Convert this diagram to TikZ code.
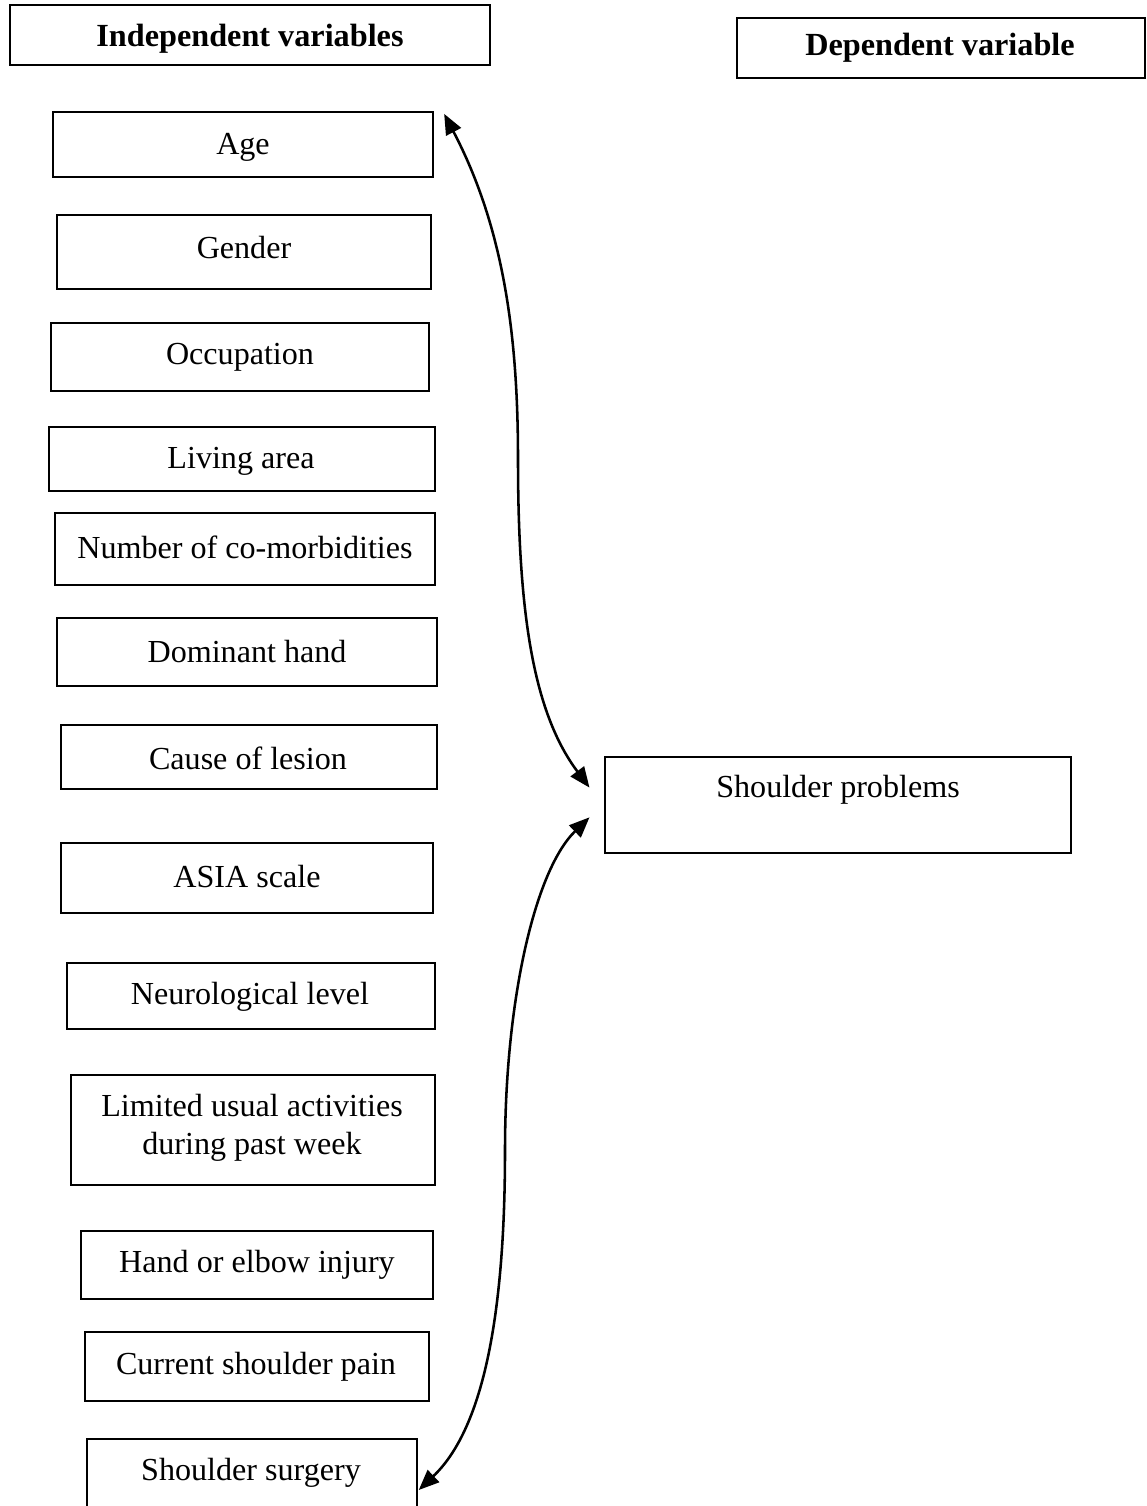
\documentclass[tikz,border=0pt]{standalone}
\usepackage{fontspec}
\setmainfont{Liberation Serif}
\usetikzlibrary{arrows.meta,fit}
\tikzset{
  varbox/.style={draw,line width=0.8pt,inner sep=0pt},
  vartext/.style={font=\fontsize{12.6}{14.9}\selectfont,align=center,inner sep=0pt},
  headtext/.style={font=\fontsize{12.65}{15}\selectfont\bfseries,inner sep=0pt},
  link/.style={line width=1pt,{Triangle[length=8pt,width=6.5pt]}-{Triangle[length=8pt,width=6.5pt]}}
}
\begin{document}
\begin{tikzpicture}[x=0.0138cm,y=-0.0138cm]
  % Page frame, the last box runs off the bottom edge
  \useasboundingbox (0,0) rectangle (1147,1506);
  \clip (0,0) rectangle (1147,1506);
  % Headings
  \foreach \nm/\xa/\ya/\xb/\yb/\tx/\ty/\txt in {
      indep/10/5/490/65/250/39/Independent variables,
      dep/737/18/1145/78/940/48/Dependent variable}{
    \path (\xa,\ya) coordinate (\nm-a) (\xb,\yb) coordinate (\nm-b);
    \node[varbox,fit=(\nm-a)(\nm-b)] (\nm) {};
    \node[headtext] (\nm-t) at (\tx,\ty) {\txt};
  }
  % Independent variables, one box each
  \foreach \nm/\xa/\ya/\xb/\yb/\tx/\ty/\txt in {
      age/53/112/433/177/243/147/Age,
      gender/57/215/431/289/244/248/Gender,
      occup/51/323/429/391/240/357/Occupation,
      living/49/427/435/491/241/461/Living area,
      comorb/55/513/435/585/245/547/Number of co-morbidities,
      domhand/57/618/437/686/247/652/Dominant hand,
      cause/61/725/437/789/248/758/Cause of lesion,
      asia/61/843/433/913/247/877/ASIA scale,
      neuro/67/963/435/1029/250/997/Neurological level,
      hand/81/1231/433/1299/257/1265/Hand or elbow injury,
      pain/85/1332/429/1401/256/1367/Current shoulder pain,
      surgery/87/1439/417/1540/251/1473/Shoulder surgery}{
    \path (\xa,\ya) coordinate (\nm-a) (\xb,\yb) coordinate (\nm-b);
    \node[varbox,fit=(\nm-a)(\nm-b)] (\nm) {};
    \node[vartext] (\nm-t) at (\tx,\ty) {\txt};
  }
  % the two line box
  \path (71,1075) coordinate (limit-a) (435,1185) coordinate (limit-b);
  \node[varbox,fit=(limit-a)(limit-b)] (limit) {};
  \node[vartext] (limit-t) at (252,1128) {Limited usual activities\\during past week};
  % Dependent variable
  \path (605,757) coordinate (prob-a) (1071,853) coordinate (prob-b);
  \node[varbox,fit=(prob-a)(prob-b)] (prob) {};
  \node[vartext] (prob-t) at (838,790) {Shoulder problems};
  % Links
  \coordinate (top-end) at ([xshift=-0.20cm,yshift=0.24cm]prob.west);
  \coordinate (bot-end) at ([xshift=-0.20cm,yshift=-0.17cm]prob.west);
  \draw[link] ([xshift=0.14cm,yshift=-0.04cm]age.north east)
    .. controls (505,230) and (518,340) .. (518,460)
    .. controls (518,620) and (535,715) .. (top-end);
  \draw[link] (bot-end)
    .. controls (535,870) and (505,1000) .. (505,1150)
    .. controls (505,1320) and (482,1430) .. ([xshift=0.01cm]surgery.east |- 0,1490);
\end{tikzpicture}
\end{document}
